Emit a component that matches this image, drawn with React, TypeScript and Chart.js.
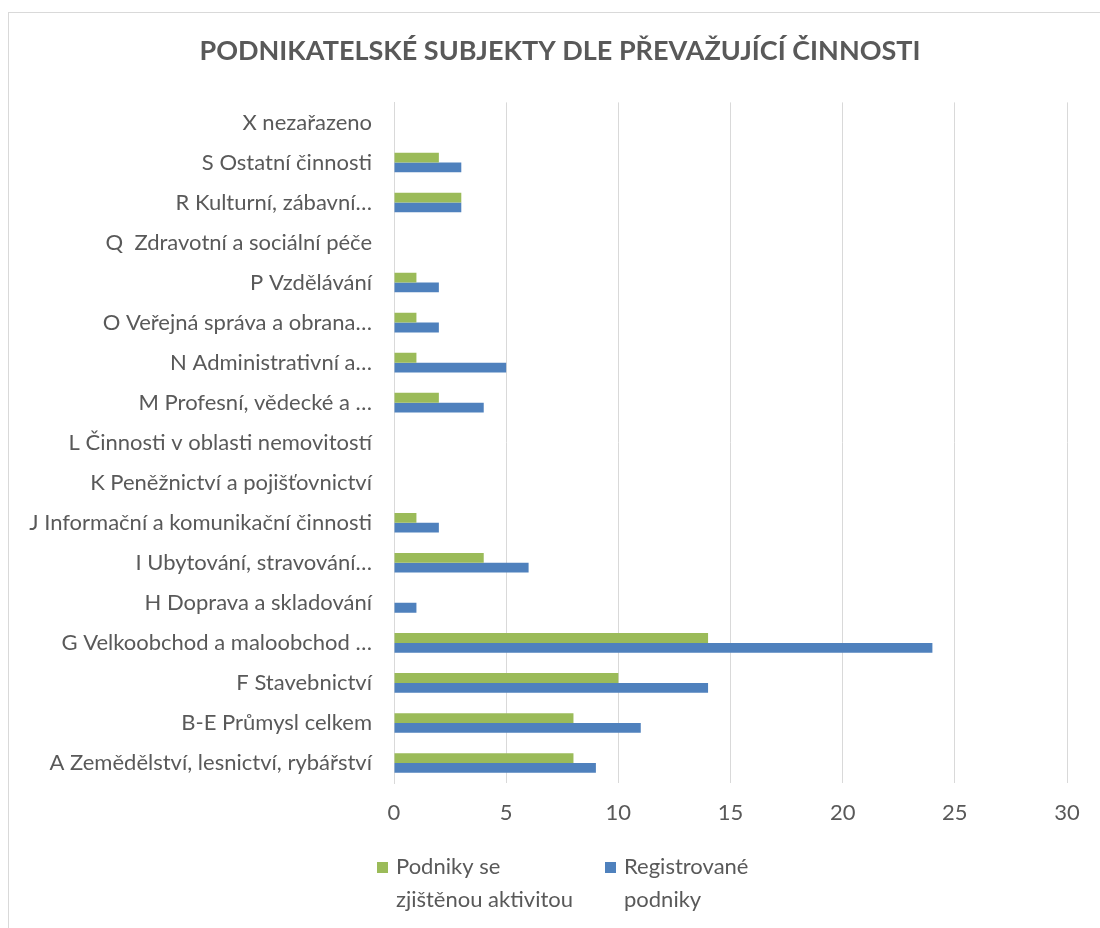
import React, { useEffect, useRef } from "react";
import { Chart, registerables } from "chart.js";

Chart.register(...registerables);

const categories: string[] = [
  "X nezařazeno",
  "S Ostatní činnosti",
  "R Kulturní, zábavní…",
  "Q  Zdravotní a sociální péče",
  "P Vzdělávání",
  "O Veřejná správa a obrana…",
  "N Administrativní a…",
  "M Profesní, vědecké a …",
  "L Činnosti v oblasti nemovitostí",
  "K Peněžnictví a pojišťovnictví",
  "J Informační a komunikační činnosti",
  "I Ubytování, stravování…",
  "H Doprava a skladování",
  "G Velkoobchod a maloobchod …",
  "F Stavebnictví",
  "B-E Průmysl celkem",
  "A Zemědělství, lesnictví, rybářství",
];

const activeFirms: number[] = [0, 2, 3, 0, 1, 1, 1, 2, 0, 0, 1, 4, 0, 14, 10, 8, 8];
const registeredFirms: number[] = [0, 3, 3, 0, 2, 2, 5, 4, 0, 0, 2, 6, 1, 24, 14, 11, 9];

const seriesLabels: string[][] = [
  ["Podniky se", "zjištěnou aktivitou"],
  ["Registrované", "podniky"],
];
const seriesColors: string[] = ["#9BBB59", "#4F81BD"];

const titleText = "PODNIKATELSKÉ SUBJEKTY DLE PŘEVAŽUJÍCÍ ČINNOSTI";
const xTicks: number[] = [0, 5, 10, 15, 20, 25, 30];

const FONT = "Lato, sans-serif";
const TEXT_COLOR = "#595959";
const LABEL_SIZE = 22;

const legendPlugin = {
  id: "twoLineLegend",
  afterLayout(chart: any) {
    // center the title over the same span as in the reference
    if (chart.titleBlock) {
      chart.titleBlock.left = 44;
    }
  },
  afterDraw(chart: any) {
    const ctx = chart.ctx;
    const items = [
      { x: 368, label: seriesLabels[0], color: seriesColors[0] },
      { x: 596, label: seriesLabels[1], color: seriesColors[1] },
    ];
    ctx.save();
    ctx.font = `${LABEL_SIZE}px ${FONT}`;
    ctx.textBaseline = "middle";
    ctx.textAlign = "left";
    items.forEach((it) => {
      ctx.fillStyle = it.color;
      ctx.fillRect(it.x, 849, 11, 11);
      ctx.fillStyle = TEXT_COLOR;
      it.label.forEach((line, i) => {
        ctx.fillText(line, it.x + 19, 854 + i * 33);
      });
    });
    ctx.restore();
  },
};

export default function App() {
  const ref = useRef<HTMLCanvasElement>(null);

  useEffect(() => {
    if (!ref.current) return;
    const chart = new Chart(ref.current, {
      type: "bar",
      data: {
        labels: categories,
        datasets: [
          {
            label: seriesLabels[0].join(" "),
            data: activeFirms,
            backgroundColor: seriesColors[0],
            categoryPercentage: 0.49,
            barPercentage: 1.0,
          },
          {
            label: seriesLabels[1].join(" "),
            data: registeredFirms,
            backgroundColor: seriesColors[1],
            categoryPercentage: 0.49,
            barPercentage: 1.0,
          },
        ],
      },
      options: {
        indexAxis: "y",
        animation: false,
        responsive: false,
        maintainAspectRatio: false,
        layout: { padding: { left: 0, right: 32, top: 0, bottom: 100 } },
        plugins: {
          legend: { display: false },
          tooltip: { enabled: false },
          title: {
            display: true,
            text: titleText,
            color: TEXT_COLOR,
            font: { family: FONT, size: 27, weight: "bold", lineHeight: 1.2 },
            padding: { top: 22, bottom: 35 },
          },
        },
        scales: {
          x: {
            min: 0,
            max: 30,
            afterBuildTicks: (scale: any) => {
              scale.ticks = xTicks.map((v) => ({ value: v }));
            },
            afterFit: (scale: any) => {
              scale.height = 45;
            },
            grid: { color: "#d9d9d9", drawTicks: false, lineWidth: 1 },
            border: { display: false },
            ticks: {
              color: TEXT_COLOR,
              font: { family: FONT, size: LABEL_SIZE },
              padding: 17,
            },
          },
          y: {
            afterFit: (scale: any) => {
              scale.width = 385;
            },
            grid: { display: false, drawTicks: false },
            border: { display: true, color: "#d9d9d9" },
            ticks: {
              color: TEXT_COLOR,
              font: { family: FONT, size: LABEL_SIZE },
              padding: 22,
              autoSkip: false,
            },
          },
        },
      },
      plugins: [legendPlugin],
    });
    return () => chart.destroy();
  }, []);

  return (
    <div
      style={{
        position: "fixed",
        left: 8,
        top: 12,
        width: 1092,
        height: 930,
        border: "1px solid #d9d9d9",
        background: "#fff",
      }}
    >
      <canvas ref={ref} width={1090} height={915} style={{ display: "block" }} />
    </div>
  );
}
